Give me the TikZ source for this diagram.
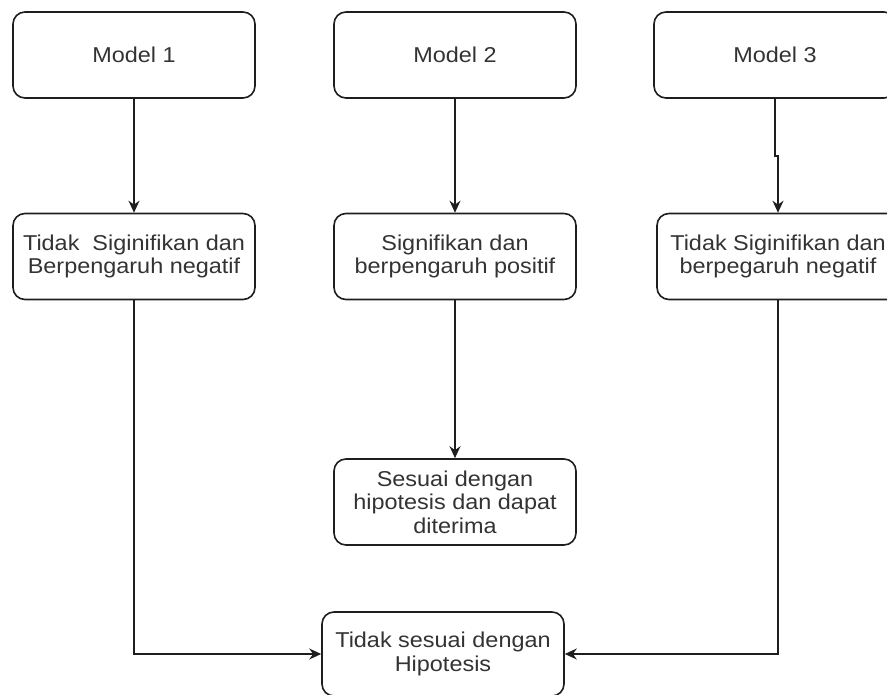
\documentclass[tikz,border=0pt]{standalone}
\usepackage{fontspec}
\setmainfont[FakeStretch=1.09]{Liberation Sans}
\usetikzlibrary{arrows.meta}
\definecolor{txt}{HTML}{333333}
\definecolor{ln}{HTML}{1E1E1E}
\begin{document}
\begin{tikzpicture}[x=1pt,y=-1pt,
  box/.style={draw=ln, line width=1.6pt, rounded corners=12pt, minimum width=242pt, minimum height=86pt,
    align=center, text=txt, inner sep=2pt, font=\fontsize{21.5}{23.5}\selectfont},
  arr/.style={draw=ln, line width=1.6pt, -{Stealth[length=12pt,width=11pt]}}]
\useasboundingbox (0,0) rectangle (887,695);
\node[box] (m1) at (134,55) {Model 1};
\node[box] (m2) at (455,55) {Model 2};
\node[box] (m3) at (775,55) {Model 3};
\node[box] (t1) at (134,256.5) {Tidak\ \ Siginifikan dan\\Berpengaruh negatif};
\node[box] (s2) at (455,256.5) {Signifikan dan\\berpengaruh positif};
\node[box] (t3) at (778,256.5) {Tidak Siginifikan dan\\berpegaruh negatif};
\node[box] (s3) at (455,502) {Sesuai dengan\\hipotesis dan dapat\\diterima};
\node[box, minimum height=84pt] (t4) at (443,654) {Tidak sesuai dengan\\Hipotesis};
\draw[arr] (m1.south) -- (t1.north);
\draw[arr] (m2.south) -- (s2.north);
\draw[arr] (m3.south) -- ++(0,57) -| (t3.north);
\draw[arr] (s2.south) -- (s3.north);
\draw[arr] (t1.south) |- (t4.west);
\draw[arr] (t3.south) |- (t4.east);
\end{tikzpicture}
\end{document}
